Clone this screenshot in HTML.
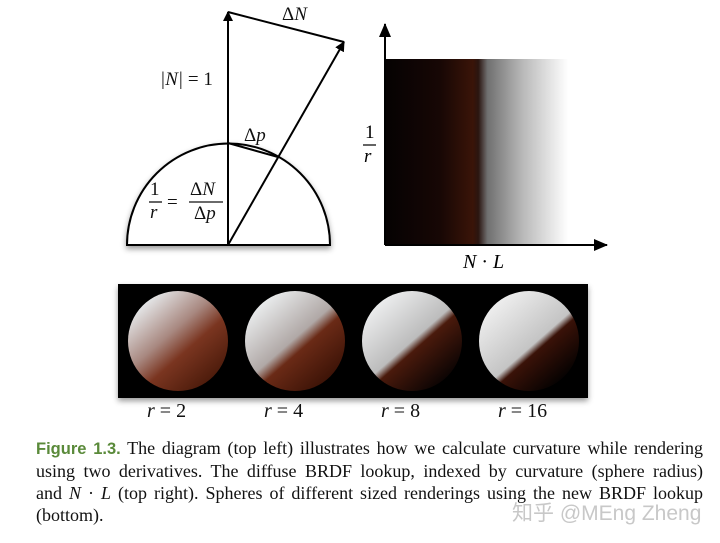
<!DOCTYPE html>
<html><head><meta charset="utf-8">
<style>
body{margin:0;background:#fff;width:720px;height:543px;overflow:hidden;position:relative;font-family:"Liberation Serif",serif}
.cap{position:absolute;left:36px;top:437px;width:667px;font-size:18px;line-height:22px;color:#111}
.cap div{text-align:justify;text-align-last:justify;white-space:nowrap}
.cap div.last{text-align-last:left}
.fig{font-family:"Liberation Sans",sans-serif;color:#5a8a3a;font-weight:bold;font-size:16.5px}
.wm{position:absolute;left:512px;top:497px;font-family:"Liberation Sans","Noto Sans CJK SC",sans-serif;font-size:21px;color:#c8c8c8}
</style></head><body>
<svg width="720" height="435" style="position:absolute;left:0;top:0" font-family="Liberation Serif, serif">
<defs>
<marker id="ah" markerWidth="10" markerHeight="10" refX="9" refY="5" orient="auto" markerUnits="userSpaceOnUse"><path d="M0,0 L10,5 L0,10 z" fill="#000"/></marker>
<marker id="ah2" markerWidth="14" markerHeight="12" refX="13" refY="6" orient="auto" markerUnits="userSpaceOnUse"><path d="M0,0 L14,6 L0,12 z" fill="#000"/></marker>
<linearGradient id="lut" x1="0" x2="1" y1="0" y2="0">
<stop offset="0" stop-color="#050202"/><stop offset="0.3" stop-color="#170705"/><stop offset="0.48" stop-color="#3a1408"/><stop offset="0.51" stop-color="#2a1510"/><stop offset="0.56" stop-color="#707070"/><stop offset="0.75" stop-color="#b8b8b8"/><stop offset="1" stop-color="#fff"/></linearGradient>
<linearGradient id="s1" x1="0.15" y1="0.1" x2="0.85" y2="0.9"><stop offset="0" stop-color="#e8ecee"/><stop offset="0.4" stop-color="#a88880"/><stop offset="0.62" stop-color="#7a3520"/><stop offset="1" stop-color="#4a1a0a"/></linearGradient>
<linearGradient id="s2" x1="0.15" y1="0.1" x2="0.85" y2="0.9"><stop offset="0" stop-color="#eceff0"/><stop offset="0.48" stop-color="#b0a8a6"/><stop offset="0.6" stop-color="#6a2a16"/><stop offset="1" stop-color="#3a1206"/></linearGradient>
<linearGradient id="s3" x1="0.15" y1="0.1" x2="0.85" y2="0.9"><stop offset="0" stop-color="#eeeff0"/><stop offset="0.5" stop-color="#bcbcbc"/><stop offset="0.58" stop-color="#4a1a0c"/><stop offset="1" stop-color="#080303"/></linearGradient>
<linearGradient id="s4" x1="0.15" y1="0.1" x2="0.85" y2="0.9"><stop offset="0" stop-color="#f0f0f0"/><stop offset="0.55" stop-color="#c4c4c4"/><stop offset="0.62" stop-color="#3a1208"/><stop offset="1" stop-color="#020101"/></linearGradient>
<filter id="sh"><feDropShadow dx="0" dy="3" stdDeviation="3" flood-opacity="0.4"/></filter>
</defs>
<g fill="none" stroke="#000" stroke-width="2">
<path d="M127,245 A101,101 0 0 1 330,245 Z" fill="#fff" filter="url(#sh)"/>
<line x1="228" y1="245" x2="228" y2="12" marker-end="url(#ah)"/>
<line x1="228" y1="12" x2="344" y2="42"/>
<line x1="228" y1="245" x2="344" y2="42" marker-end="url(#ah)"/>
<line x1="228" y1="143" x2="278" y2="157"/>
</g>
<g font-style="italic" font-size="19" fill="#111">
<text x="282" y="20"><tspan font-style="normal">Δ</tspan>N</text>
<text x="160" y="85">|N| <tspan font-style="normal">= 1</tspan></text>
<text x="244" y="141"><tspan font-style="normal">Δ</tspan>p</text>
<g>
<text x="150" y="195" font-style="normal">1</text><line x1="149" y1="202" x2="162" y2="202" stroke="#111" stroke-width="1.3"/><text x="150" y="218">r</text>
<text x="167" y="208" font-style="normal">=</text>
<text x="190" y="195"><tspan font-style="normal">Δ</tspan>N</text><line x1="189" y1="202" x2="223" y2="202" stroke="#111" stroke-width="1.3"/><text x="194" y="219"><tspan font-style="normal">Δ</tspan>p</text>
</g>
</g>
<g>
<rect x="385" y="59" width="183" height="186" fill="url(#lut)"/>
<line x1="385" y1="245" x2="385" y2="24" stroke="#000" stroke-width="2" marker-end="url(#ah2)"/>
<line x1="385" y1="245" x2="607" y2="245" stroke="#000" stroke-width="2" marker-end="url(#ah2)"/>
<text x="365" y="138" font-size="19">1</text>
<line x1="363" y1="145" x2="376" y2="145" stroke="#111" stroke-width="1.3"/>
<text x="364" y="162" font-size="19" font-style="italic">r</text>
<text x="463" y="268" font-size="20" font-style="italic">N <tspan font-style="normal">·</tspan> L</text>
</g>
<g>
<rect x="118" y="284" width="470" height="114" fill="#000" filter="url(#sh)"/>
<circle cx="178" cy="341" r="50" fill="url(#s1)"/>
<circle cx="295" cy="341" r="50" fill="url(#s2)"/>
<circle cx="412" cy="341" r="50" fill="url(#s3)"/>
<circle cx="529" cy="341" r="50" fill="url(#s4)"/>
<g font-size="20" fill="#111">
<text x="147" y="417" font-style="italic">r <tspan font-style="normal">= 2</tspan></text>
<text x="264" y="417" font-style="italic">r <tspan font-style="normal">= 4</tspan></text>
<text x="381" y="417" font-style="italic">r <tspan font-style="normal">= 8</tspan></text>
<text x="498" y="417" font-style="italic">r <tspan font-style="normal">= 16</tspan></text>
</g>
</g>
</svg>
<div class="cap">
<div><span class="fig">Figure 1.3.</span> The diagram (top left) illustrates how we calculate curvature while rendering</div>
<div>using two derivatives. The diffuse BRDF lookup, indexed by curvature (sphere radius)</div>
<div>and <i>N</i> · <i>L</i> (top right). Spheres of different sized renderings using the new BRDF lookup</div>
<div class="last">(bottom).</div>
</div>
<div class="wm">知乎 @MEng Zheng</div>
</body></html>
